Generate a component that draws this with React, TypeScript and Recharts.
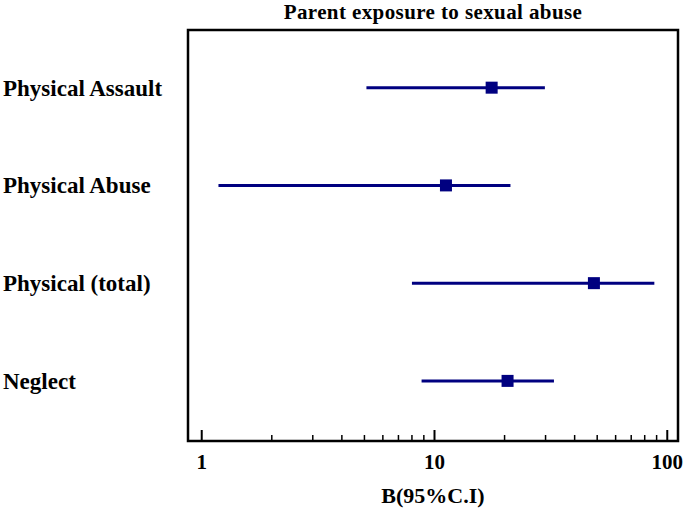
import {
  ErrorBar,
  ReferenceArea,
  Scatter,
  ScatterChart,
  XAxis,
  YAxis,
} from "recharts";

const categories = [
  "Physical Assault",
  "Physical Abuse",
  "Physical (total)",
  "Neglect",
];
const estimates = [17.6, 11.2, 48.4, 20.6];
const lowerCI = [5.1, 1.18, 8.0, 8.8];
const upperCI = [29.8, 21.2, 88.0, 32.6];

const xTicks = [1, 2, 3, 4, 5, 6, 7, 8, 9, 10, 20, 30, 40, 50, 60, 70, 80, 90, 100];
const xLabels = [1, 10, 100];
const X_DOMAIN = [0.873, 111.2];
const Y_DOMAIN = [0.385, 4.59];

const NAVY = "#000080";
const FONT = '"Liberation Serif", "Times New Roman", serif';

const data = categories.map((name, i) => ({
  name,
  row: categories.length - i,
  b: estimates[i],
  err: [estimates[i] - lowerCI[i], upperCI[i] - estimates[i]],
}));

function XTick({ x, y, payload }: any) {
  const major = xLabels.includes(payload.value);
  return (
    <g>
      <line
        x1={x}
        x2={x}
        y1={y}
        y2={y - (major ? 11 : 6)}
        stroke="#000"
        strokeWidth={major ? 2 : 1.5}
      />
      {major && (
        <text
          x={x}
          y={y + 28}
          textAnchor="middle"
          fontFamily={FONT}
          fontWeight="bold"
          fontSize={21}
          fill="#000"
        >
          {payload.value}
        </text>
      )}
    </g>
  );
}

function YTick({ y, payload }: any) {
  const name = categories[categories.length - payload.value];
  return (
    <text
      x={3}
      y={y + 8}
      textAnchor="start"
      fontFamily={FONT}
      fontWeight="bold"
      fontSize={23}
      fill="#000"
    >
      {name}
    </text>
  );
}

function Marker({ cx, cy }: any) {
  return <rect x={cx - 6} y={cy - 6} width={12} height={12} fill={NAVY} />;
}

export default function App() {
  return (
    <div
      style={{
        position: "absolute",
        left: 0,
        top: 0,
        width: 685,
        height: 510,
        background: "#fff",
      }}
    >
      <div
        style={{
          position: "absolute",
          left: 188,
          width: 490,
          top: 0,
          textAlign: "center",
          fontFamily: FONT,
          fontWeight: "bold",
          fontSize: 21,
          letterSpacing: 0.4,
          lineHeight: "normal",
        }}
      >
        Parent exposure to sexual abuse
      </div>
      <ScatterChart
        width={685}
        height={510}
        margin={{ top: 30, right: 7, bottom: 0, left: 0 }}
      >
        <XAxis
          type="number"
          dataKey="b"
          scale="log"
          domain={X_DOMAIN}
          allowDataOverflow
          ticks={xTicks}
          interval={0}
          axisLine={false}
          tickLine={false}
          tickSize={0}
          tickMargin={0}
          tick={<XTick />}
          height={69}
          label={{
            value: "B(95%C.I)",
            position: "insideBottom",
            offset: 7,
            fontFamily: FONT,
            fontWeight: "bold",
            fontSize: 22,
            fill: "#000",
          }}
        />
        <YAxis
          type="number"
          dataKey="row"
          domain={Y_DOMAIN}
          allowDataOverflow
          ticks={[1, 2, 3, 4]}
          interval={0}
          axisLine={false}
          tickLine={false}
          tick={<YTick />}
          width={188}
        />
        <ReferenceArea
          x1={X_DOMAIN[0]}
          x2={X_DOMAIN[1]}
          y1={Y_DOMAIN[0]}
          y2={Y_DOMAIN[1]}
          fill="none"
          fillOpacity={0}
          stroke="#000"
          strokeWidth={2.5}
          strokeOpacity={1}
        />
        <Scatter data={data} shape={<Marker />} isAnimationActive={false}>
          <ErrorBar
            dataKey="err"
            direction="x"
            width={0}
            stroke={NAVY}
            strokeWidth={3}
          />
        </Scatter>
      </ScatterChart>
    </div>
  );
}
